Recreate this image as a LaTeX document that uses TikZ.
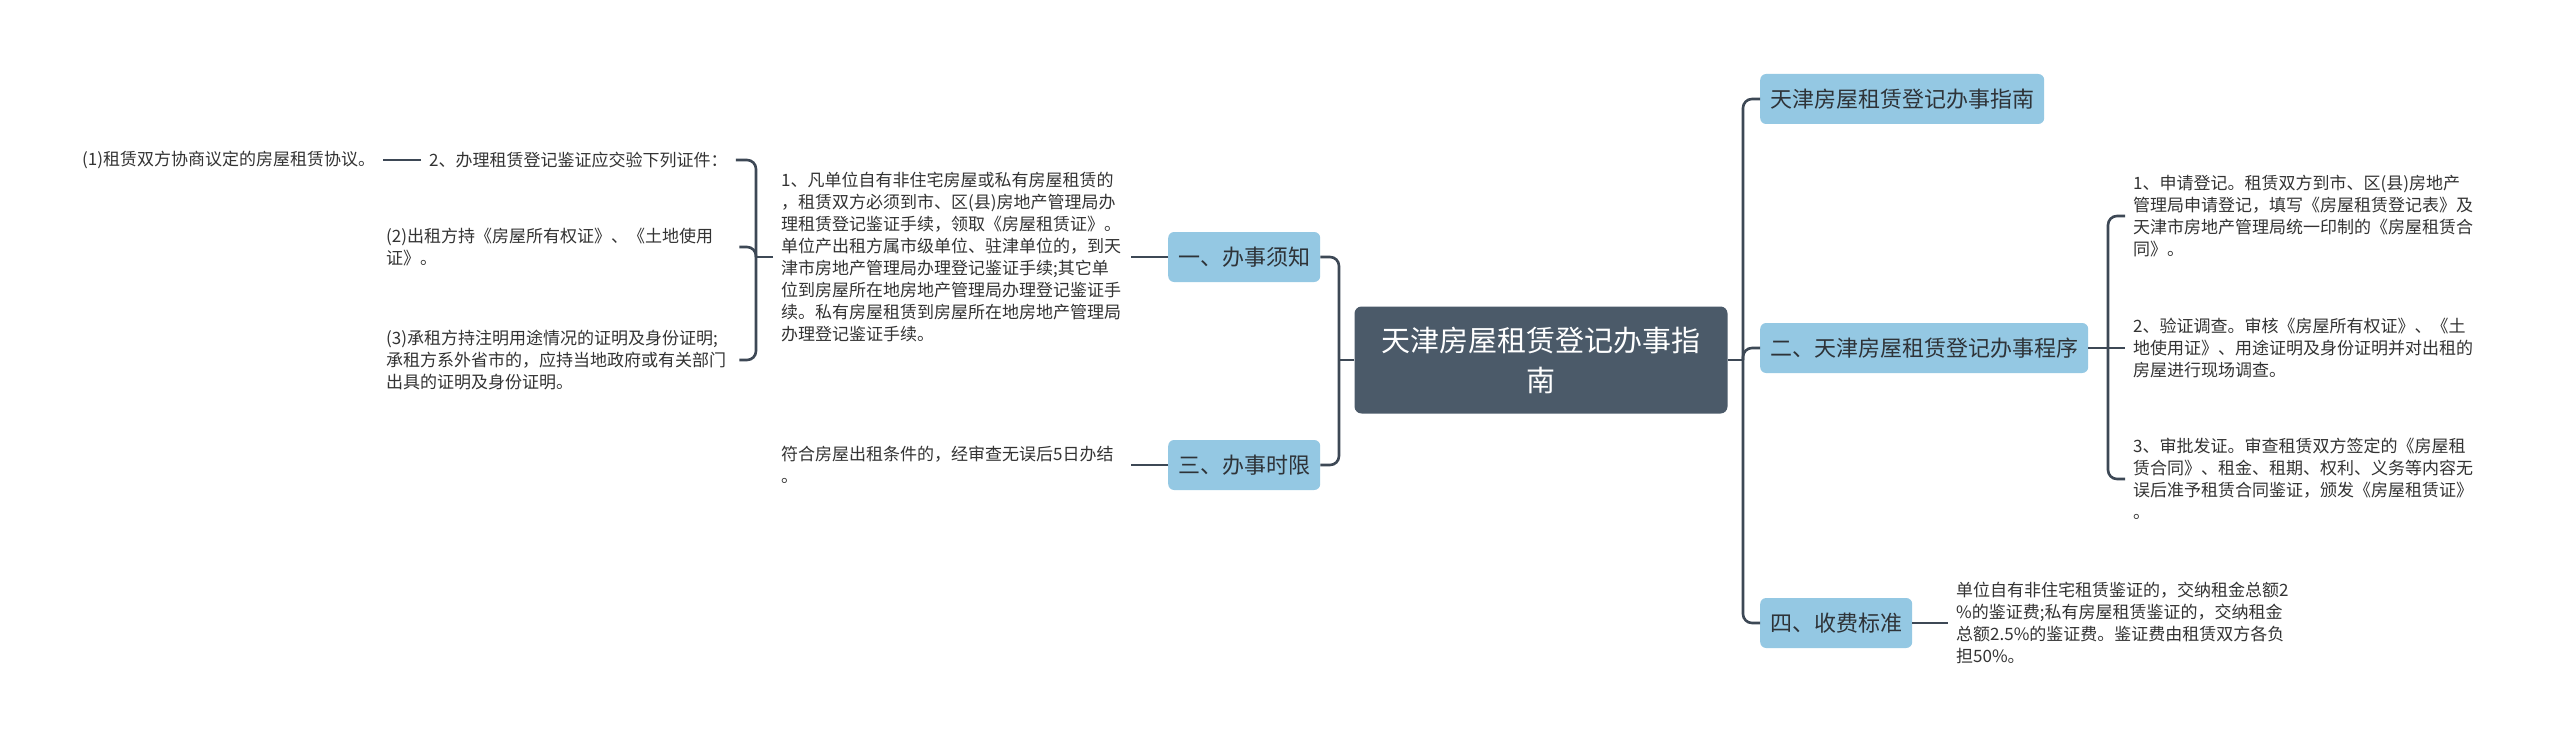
\documentclass[tikz,border=0pt]{standalone}
\usepackage{fontspec}
\setmainfont{Noto Sans CJK SC}
\definecolor{linec}{HTML}{3D4855}
\definecolor{boxblue}{HTML}{94C8E3}
\definecolor{rootc}{HTML}{4B5A69}
\definecolor{textdark}{HTML}{2E3338}
\definecolor{textgray}{HTML}{333333}
\tikzset{
  conn/.style={draw=linec, line width=2.6pt, rounded corners=9pt},
  topicbox/.style={fill=boxblue, rounded corners=6pt, inner xsep=10pt, inner ysep=0pt,
    minimum height=50pt, text=textdark, font=\fontsize{22}{26}\selectfont},
  rootbox/.style={fill=rootc, rounded corners=7pt, minimum width=373pt, minimum height=107pt,
    text=white, align=center, font=\fontsize{29}{40}\selectfont},
  txt/.style={align=left, inner xsep=8pt, inner ysep=2pt, text=textgray,
    font=\fontsize{17}{22}\selectfont},
  txtw/.style={txt, text width=345pt}
}
\begin{document}
\begin{tikzpicture}[x=1pt,y=-1pt]
\useasboundingbox (0,0) rectangle (2560,749);
\fill[white] (0,0) rectangle (2560,749);

% root
\node[rootbox] (root) at (1541,360) {天津房屋租赁登记办事指\\南};

% right topics
\node[topicbox, anchor=west] (A) at (1760,99) {天津房屋租赁登记办事指南};
\node[topicbox, anchor=west] (B) at (1760,348) {二、天津房屋租赁登记办事程序};
\node[topicbox, anchor=west] (D) at (1760,623) {四、收费标准};

% left topics
\node[topicbox, anchor=west] (N1) at (1168,257) {一、办事须知};
\node[topicbox, anchor=west] (N3) at (1168,465) {三、办事时限};

% trunk coordinates
\coordinate (tR) at (1743,360);
\coordinate (tL) at (1339,360);
\coordinate (tB) at (2108,348);
\coordinate (tT) at (756,257);

% right trunk
\draw[conn] (root.east) -- (tR);
\draw[conn] (A.west) -| (tR) |- (D.west);
\draw[conn] (B.west) -| (tR);

% left trunk
\draw[conn] (root.west) -- (tL);
\draw[conn] (N1.east) -| (tL) |- (N3.east);

% B children
\node[txtw, anchor=west] (b1) at (2125,216) {1、申请登记。租赁双方到市、区(县)房地产\\管理局申请登记，填写《房屋租赁登记表》及\\天津市房地产管理局统一印制的《房屋租赁合\\同》。};
\node[txtw, anchor=west] (b2) at (2125,348) {2、验证调查。审核《房屋所有权证》、《土\\地使用证》、用途证明及身份证明并对出租的\\房屋进行现场调查。};
\node[txtw, anchor=west] (b3) at (2125,479) {3、审批发证。审查租赁双方签定的《房屋租\\赁合同》、租金、租期、权利、义务等内容无\\误后准予租赁合同鉴证，颁发《房屋租赁证》\\。};
\draw[conn] (B.east) -- (tB);
\draw[conn] (b1.west) -| (tB) |- (b3.west);
\draw[conn] (tB) -- (b2.west);

% D child
\node[txtw, anchor=west] (d1) at (1948,623) {单位自有非住宅租赁鉴证的，交纳租金总额2\\\%的鉴证费;私有房屋租赁鉴证的，交纳租金\\总额2.5\%的鉴证费。鉴证费由租赁双方各负\\担50\%。};
\draw[conn] (D.east) -- (d1.west);

% N1 child
\node[txt, text width=342pt, anchor=west] (t1) at (773,257) {1、凡单位自有非住宅房屋或私有房屋租赁的\\，租赁双方必须到市、区(县)房地产管理局办\\理租赁登记鉴证手续，领取《房屋租赁证》。\\单位产出租方属市级单位、驻津单位的，到天\\津市房地产管理局办理登记鉴证手续;其它单\\位到房屋所在地房地产管理局办理登记鉴证手\\续。私有房屋租赁到房屋所在地房地产管理局\\办理登记鉴证手续。};
\draw[conn] (N1.west) -- (t1.east);

% N3 child
\node[txt, text width=342pt, anchor=west] (t3) at (773,465) {符合房屋出租条件的，经审查无误后5日办结\\。};
\draw[conn] (N3.west) -- (t3.east);

% t1 children
\node[txt, anchor=west] (c2) at (421,160) {2、办理租赁登记鉴证应交验下列证件：};
\node[txtw, anchor=west] (p2) at (378,247) {(2)出租方持《房屋所有权证》、《土地使用\\证》。};
\node[txtw, anchor=west] (p3) at (378,360) {(3)承租方持注明用途情况的证明及身份证明;\\承租方系外省市的，应持当地政府或有关部门\\出具的证明及身份证明。};
\draw[conn] (t1.west) -- (tT);
\draw[conn] (c2.east) -| (tT) |- (p3.east);
\draw[conn] (p2.east) -| (tT);

% c2 child
\node[txt, anchor=west] (p1) at (74,160) {(1)租赁双方协商议定的房屋租赁协议。};
\draw[conn] (c2.west) -- (p1.east);
\end{tikzpicture}
\end{document}
